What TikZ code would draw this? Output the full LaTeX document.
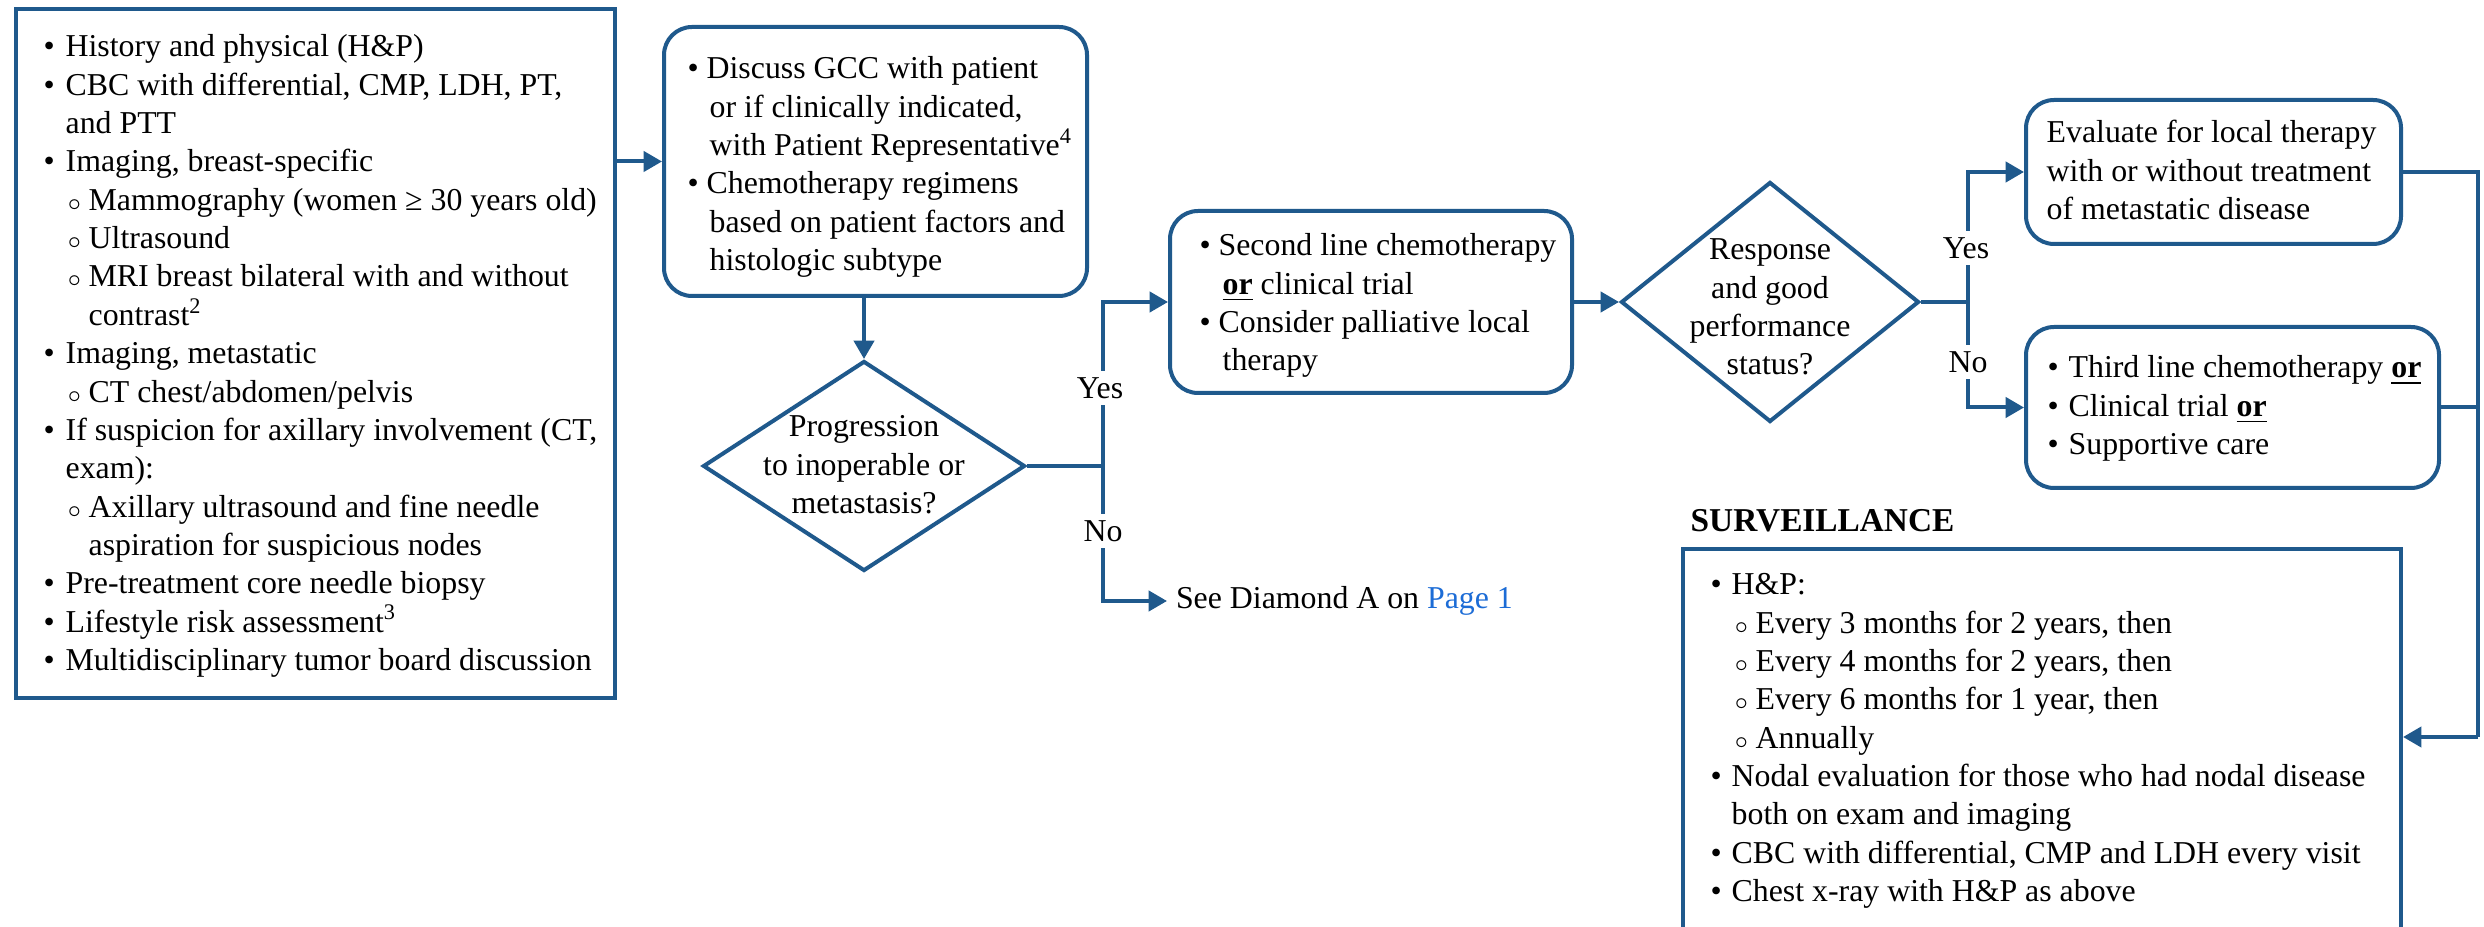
\documentclass[tikz,border=0pt]{standalone}
\usepackage{fontspec}
\setmainfont{Liberation Serif}
\usetikzlibrary{arrows.meta,shapes.geometric}
\definecolor{lb}{RGB}{31,89,140}
\definecolor{pg}{RGB}{28,108,214}
\newcommand\bodyfont{\fontsize{9.55pt}{11.5pt}\selectfont}
\newcommand\bx[1]{\makebox[#1][l]{•}}
\newcommand\cx[2]{\hspace*{#1}\makebox[#2][l]{$\scriptstyle\circ$}}
\newcommand\ulor{\textbf{\underline{or}}}
\begin{document}
\begin{tikzpicture}[x=0.3pt,y=-0.3pt,
  every node/.append style={font=\bodyfont},
  box/.style={draw=lb,line width=1.2pt,inner sep=0pt},
  rbox/.style={box,rounded corners=8.4pt},
  dia/.style={diamond,draw=lb,line width=1.2pt,inner sep=0pt},
  txt/.style={inner sep=0pt,anchor=base west},
  ctxt/.style={inner sep=0pt,anchor=base},
  lbl/.style={fill=white,inner xsep=1pt,inner ysep=2pt},
  line/.style={draw=lb,line width=1.2pt},
  arr/.style={line,-{Triangle[length=5.5pt,width=6pt]}}]
\useasboundingbox (0,0) rectangle (2484,927);
\clip (0,0) rectangle (2484,927);
\fill[white] (0,0) rectangle (2484,927);

% boxes
\node[box,minimum width=599*0.3pt,minimum height=689*0.3pt] (lbox) at (315.5,353.5) {};
\node[rbox,minimum width=423*0.3pt,minimum height=269*0.3pt] (gcc) at (875.5,161.5) {};
\node[dia,minimum width=322*0.3pt,minimum height=210*0.3pt] (d1) at (864,466) {};
\node[rbox,minimum width=402*0.3pt,minimum height=182*0.3pt] (box2) at (1371,302) {};
\node[dia,minimum width=298*0.3pt,minimum height=240*0.3pt] (d2) at (1770,302) {};
\node[rbox,minimum width=375*0.3pt,minimum height=144*0.3pt] (box3) at (2213.5,172) {};
\node[rbox,minimum width=413*0.3pt,minimum height=161*0.3pt] (box4) at (2232.5,407.5) {};
\node[box,minimum width=718*0.3pt,minimum height=451*0.3pt] (surv) at (2042,774.5) {};

% texts
\node[txt] (ltext) at (43,57) {\begin{tabular}[t]{@{}l@{}}
\bx{6.6pt}History and physical (H\&P)\\
\bx{6.6pt}CBC with differential, CMP, LDH, PT,\\
\hspace*{6.6pt}and PTT\\
\bx{6.6pt}Imaging, breast-specific\\
\cx{7.2pt}{6.3pt}Mammography (women ≥ 30 years old)\\
\cx{7.2pt}{6.3pt}Ultrasound\\
\cx{7.2pt}{6.3pt}MRI breast bilateral with and without\\
\hspace*{13.5pt}contrast\textsuperscript{2}\\
\bx{6.6pt}Imaging, metastatic\\
\cx{7.2pt}{6.3pt}CT chest/abdomen/pelvis\\
\bx{6.6pt}If suspicion for axillary involvement (CT,\\
\hspace*{6.6pt}exam):\\
\cx{7.2pt}{6.3pt}Axillary ultrasound and fine needle\\
\hspace*{13.5pt}aspiration for suspicious nodes\\
\bx{6.6pt}Pre-treatment core needle biopsy\\
\bx{6.6pt}Lifestyle risk assessment\textsuperscript{3}\\
\bx{6.6pt}Multidisciplinary tumor board discussion
\end{tabular}};

\node[txt] (gtext) at (687,79) {\begin{tabular}[t]{@{}l@{}}
\bx{5.7pt}Discuss GCC with patient\\
\hspace*{6.6pt}or if clinically indicated,\\
\hspace*{6.6pt}with Patient Representative\textsuperscript{4}\\
\bx{5.7pt}Chemotherapy regimens\\
\hspace*{6.6pt}based on patient factors and\\
\hspace*{6.6pt}histologic subtype
\end{tabular}};

\node[ctxt] (d1text) at (864,437) {\begin{tabular}[t]{@{}c@{}}
Progression\\ to inoperable or\\ metastasis?
\end{tabular}};

\node[txt] (b2text) at (1199,256) {\begin{tabular}[t]{@{}l@{}}
\bx{5.7pt}Second line chemotherapy\\
\hspace*{6.9pt}\ulor{} clinical trial\\
\bx{5.7pt}Consider palliative local\\
\hspace*{6.9pt}therapy
\end{tabular}};

\node[ctxt] (d2text) at (1770,260) {\begin{tabular}[t]{@{}c@{}}
Response\\ and good\\ performance\\ status?
\end{tabular}};

\node[txt] (b3text) at (2046,143) {\begin{tabular}[t]{@{}l@{}}
Evaluate for local therapy\\
with or without treatment\\
of metastatic disease
\end{tabular}};

\node[txt] (b4text) at (2047,378) {\begin{tabular}[t]{@{}l@{}}
\bx{6.3pt}Third line chemotherapy \ulor\\
\bx{6.3pt}Clinical trial \ulor\\
\bx{6.3pt}Supportive care
\end{tabular}};

\node[txt,font=\fontsize{10pt}{12pt}\selectfont\bfseries] (stitle) at (1690,532) {SURVEILLANCE};

\node[txt] (stext) at (1710,595) {\begin{tabular}[t]{@{}l@{}}
\bx{6.3pt}H\&P:\\
\cx{7.2pt}{6.3pt}Every 3 months for 2 years, then\\
\cx{7.2pt}{6.3pt}Every 4 months for 2 years, then\\
\cx{7.2pt}{6.3pt}Every 6 months for 1 year, then\\
\cx{7.2pt}{6.3pt}Annually\\
\bx{6.3pt}Nodal evaluation for those who had nodal disease\\
\hspace*{6.3pt}both on exam and imaging\\
\bx{6.3pt}CBC with differential, CMP and LDH every visit\\
\bx{6.3pt}Chest x-ray with H\&P as above
\end{tabular}};

\node[anchor=west,inner xsep=2.5pt,inner ysep=0pt] (see) at (1167,601) {See Diamond A on \textcolor{pg}{Page 1}};

% junction coordinates
\coordinate (j1) at (1103,466);
\coordinate (j2) at (1968,302);
\coordinate (rb) at (2478,737);

% connectors
\draw[arr] (lbox.east |- gcc.west) -- (gcc.west);
\draw[arr] (gcc.south -| d1.north) -- (d1.north);
\draw[line] (d1.east) -- (j1);
\draw[arr] (j1) |- (box2.west);
\draw[arr] (j1) |- (see.west);
\draw[arr] (box2.east) -- (d2.west);
\draw[line] (d2.east) -- (j2);
\draw[arr] (j2) |- (box3.west);
\draw[arr] (j2) |- (box4.west);
\draw[line] (box3.east) -| (rb);
\draw[line] (box4.east) -- (box4.east -| rb);
\draw[arr] (rb) -- (rb -| surv.east);

% labels
\node[lbl] (yes1) at (1100,388) {Yes};
\node[lbl] (no1) at (1103,531) {No};
\node[lbl] (yes2) at (1966,248) {Yes};
\node[lbl] (no2) at (1968,362) {No};
\end{tikzpicture}
\end{document}
